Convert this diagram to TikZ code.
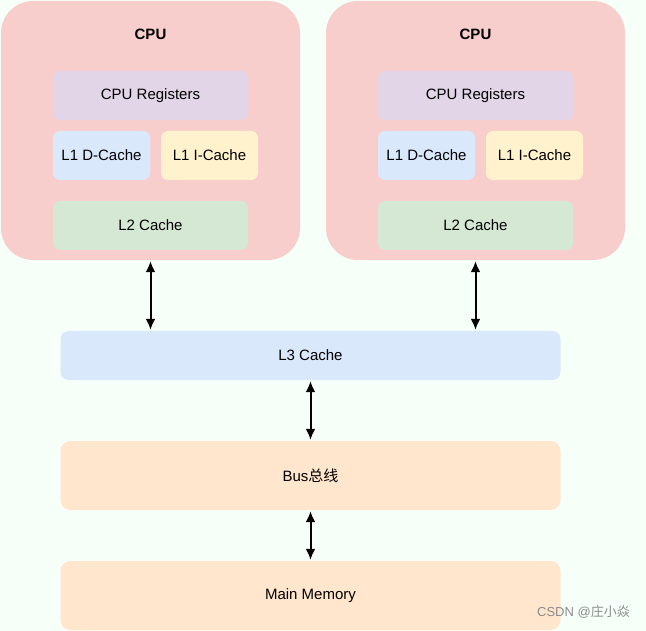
\documentclass[tikz,border=0pt]{standalone}
\usepackage{fontspec}
\setmainfont{Liberation Sans}
\newfontfamily\cjk{Noto Sans CJK SC}
\usetikzlibrary{arrows.meta}
\definecolor{bgc}{RGB}{246,255,248}
\definecolor{cpuc}{RGB}{248,206,204}
\definecolor{regc}{RGB}{225,213,231}
\definecolor{bluec}{RGB}{218,232,252}
\definecolor{yelc}{RGB}{255,242,204}
\definecolor{grnc}{RGB}{213,232,212}
\definecolor{orgc}{RGB}{255,230,204}
\definecolor{wmc}{RGB}{140,140,140}
\tikzset{
  box/.style={draw=none, rounded corners=7pt, inner sep=0pt, align=center,
    font=\fontsize{15}{18}\selectfont, text=black},
  cpubox/.style={draw=none, rounded corners=32pt, inner sep=0pt,
    minimum width=299pt, minimum height=259pt, fill=cpuc},
  title/.style={font=\fontsize{15}{18}\selectfont\bfseries, inner sep=0pt},
  link/.style={line width=2pt, {Latex[length=11pt,width=10pt]}-{Latex[length=11pt,width=10pt]}, shorten <=1pt, shorten >=1pt},
}
\begin{document}
\begin{tikzpicture}[x=1pt,y=-1pt]
\fill[bgc] (0,0) rectangle (646,631);
\useasboundingbox (0,0) rectangle (646,631);
% CPU 1
\node[cpubox] (cpu1) at (150.5,130.5) {};
\node[title] (t1) at (150.5,34.5) {CPU};
\node[box, fill=regc, minimum width=195pt, minimum height=49pt] (reg1) at (150.5,95.5) {CPU Registers};
\node[box, fill=bluec, minimum width=97pt, minimum height=49pt] (l1d1) at (101.5,155.5) {L1 D-Cache};
\node[box, fill=yelc, minimum width=97pt, minimum height=49pt] (l1i1) at (209.5,155.5) {L1 I-Cache};
\node[box, fill=grnc, minimum width=195pt, minimum height=49pt] (l2a) at (150.5,225.5) {L2 Cache};
% CPU 2
\node[cpubox] (cpu2) at (475.5,130.5) {};
\node[title] (t2) at (475.5,34.5) {CPU};
\node[box, fill=regc, minimum width=195pt, minimum height=49pt] (reg2) at (475.5,95.5) {CPU Registers};
\node[box, fill=bluec, minimum width=97pt, minimum height=49pt] (l1d2) at (426.5,155.5) {L1 D-Cache};
\node[box, fill=yelc, minimum width=97pt, minimum height=49pt] (l1i2) at (534.5,155.5) {L1 I-Cache};
\node[box, fill=grnc, minimum width=195pt, minimum height=49pt] (l2b) at (475.5,225.5) {L2 Cache};
% shared
\node[box, fill=bluec, rounded corners=8pt, minimum width=500pt, minimum height=49pt] (l3) at (310.5,355.5) {L3 Cache};
\node[box, fill=orgc, rounded corners=10pt, minimum width=500pt, minimum height=69pt] (bus) at (310.5,475.5) {Bus{\cjk 总线}};
\node[box, fill=orgc, rounded corners=10pt, minimum width=500pt, minimum height=69pt] (mem) at (310.5,595.5) {Main Memory};
% watermark
\node[text=wmc, font=\fontsize{13}{15}\selectfont, inner sep=0pt, anchor=east] (wm) at (630,612) {CSDN @{\cjk 庄小焱}};
% links
\draw[link] (cpu1.south) -- (cpu1.south |- l3.north);
\draw[link] (cpu2.south) -- (cpu2.south |- l3.north);
\draw[link] (l3.south) -- (bus.north);
\draw[link] (bus.south) -- (mem.north);
\end{tikzpicture}
\end{document}
